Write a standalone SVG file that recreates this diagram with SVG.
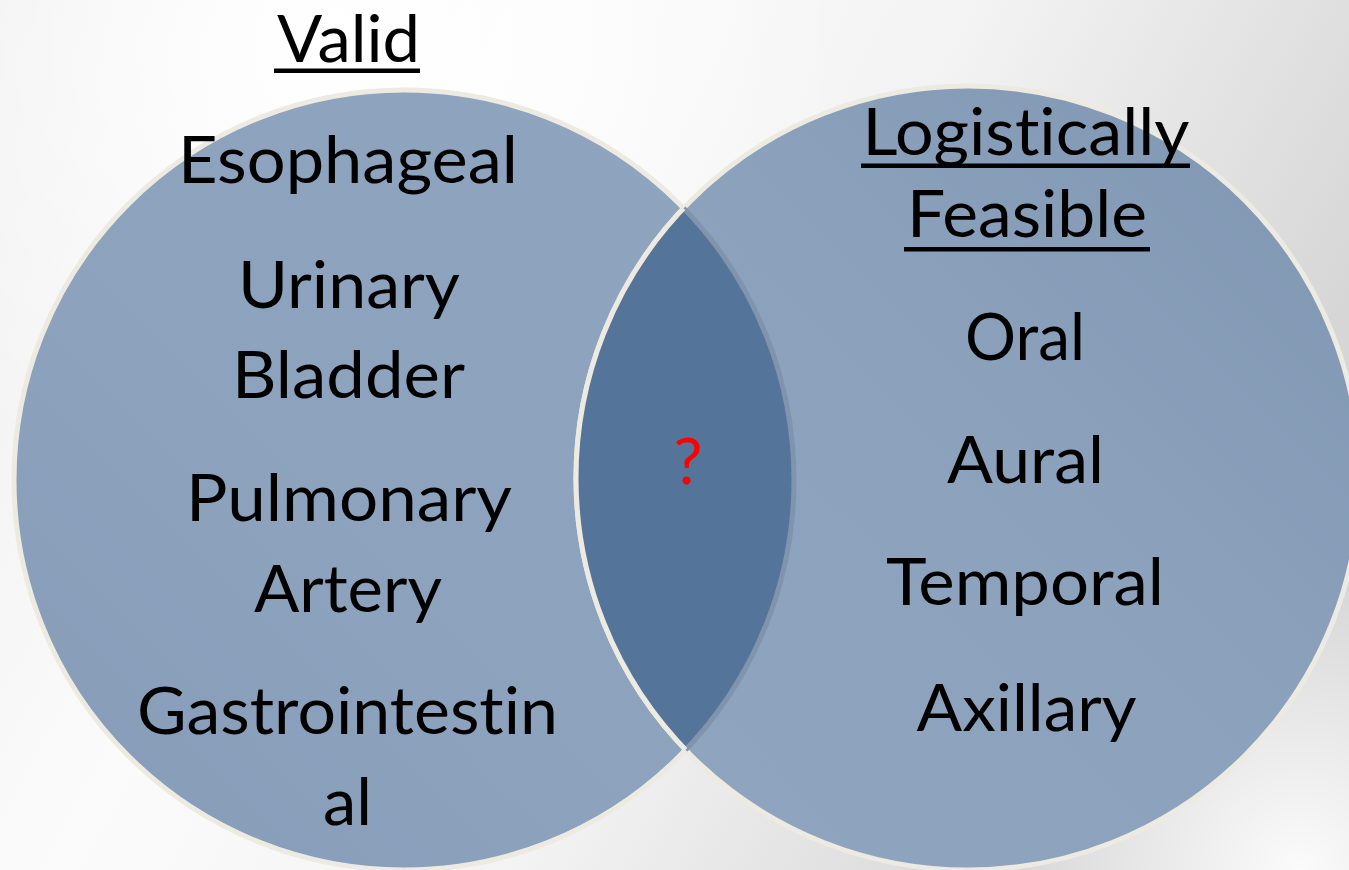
<svg xmlns="http://www.w3.org/2000/svg" width="1349" height="870" viewBox="0 0 1349 870">
  <defs>
    <linearGradient id="bg" x1="0" y1="0" x2="1" y2="0.35">
      <stop offset="0" stop-color="#EFEFEF"/>
      <stop offset="0.35" stop-color="#FBFBFB"/>
      <stop offset="0.65" stop-color="#F3F3F3"/>
      <stop offset="1" stop-color="#D6D6D6"/>
    </linearGradient>
    <radialGradient id="bgGlow" cx="330" cy="40" r="520" gradientUnits="userSpaceOnUse">
      <stop offset="0" stop-color="#FFFFFF" stop-opacity="1"/>
      <stop offset="1" stop-color="#FFFFFF" stop-opacity="0"/>
    </radialGradient>
    <radialGradient id="bgGlow2" cx="1300" cy="870" r="300" gradientUnits="userSpaceOnUse">
      <stop offset="0" stop-color="#FFFFFF" stop-opacity="0.9"/>
      <stop offset="1" stop-color="#FFFFFF" stop-opacity="0"/>
    </radialGradient>
    <linearGradient id="fillL" x1="1" y1="0" x2="0" y2="1">
      <stop offset="0" stop-color="#8FA5BF"/>
      <stop offset="0.6" stop-color="#8CA2BD"/>
      <stop offset="1" stop-color="#859BB7"/>
    </linearGradient>
    <linearGradient id="fillR" x1="0" y1="1" x2="1" y2="0">
      <stop offset="0" stop-color="#8FA5C0"/>
      <stop offset="0.55" stop-color="#8BA1BC"/>
      <stop offset="1" stop-color="#7F96B2"/>
    </linearGradient>
    <clipPath id="clipL">
      <circle cx="404" cy="480" r="390"/>
    </clipPath>
    <clipPath id="clipR">
      <circle cx="968" cy="478" r="392"/>
    </clipPath>
    <style>
      .edge { stroke: #EDEAE1; stroke-width: 5; }
      .lbl { font-family: Lato, "Open Sans", "Liberation Sans", sans-serif; font-size: 66px; fill: #000000; text-anchor: middle; font-variant-ligatures: none; font-feature-settings: "liga" 0, "clig" 0; }
      .ul { fill: #000000; }
      .q { font-family: Lato, "Open Sans", "Liberation Sans", sans-serif; font-size: 64px; fill: #FF0000; text-anchor: middle; }
    </style>
  </defs>

  <rect x="0" y="0" width="1349" height="870" fill="url(#bg)"/>
  <rect x="0" y="0" width="1349" height="870" fill="url(#bgGlow)"/>
  <rect x="0" y="0" width="1349" height="870" fill="url(#bgGlow2)"/>

  <g id="connectors"></g>

  <g id="set-valid">
    <circle cx="404" cy="480" r="390" fill="url(#fillL)" class="edge"/>
    <text class="lbl" x="348.5" y="62" textLength="143" lengthAdjust="spacingAndGlyphs">Valid</text>
    <rect class="ul" x="274" y="68.5" width="146" height="4.5"/>
    <text class="lbl" x="348" y="183" textLength="340" lengthAdjust="spacingAndGlyphs">Esophageal</text>
    <text class="lbl" x="349" y="308" textLength="222" lengthAdjust="spacingAndGlyphs">Urinary</text>
    <text class="lbl" x="348.5" y="398" textLength="233" lengthAdjust="spacingAndGlyphs">Bladder</text>
    <text class="lbl" x="349" y="521" textLength="326" lengthAdjust="spacingAndGlyphs">Pulmonary</text>
    <text class="lbl" x="348" y="612" textLength="188" lengthAdjust="spacingAndGlyphs">Artery</text>
    <text class="lbl" x="347.5" y="734" textLength="421" lengthAdjust="spacingAndGlyphs">Gastrointestin</text>
    <text class="lbl" x="347.5" y="825" textLength="49" lengthAdjust="spacingAndGlyphs">al</text>
  </g>

  <g id="set-feasible">
    <circle cx="968" cy="478" r="392" fill="url(#fillR)" class="edge"/>
    <text class="lbl" x="1026" y="155" textLength="327" lengthAdjust="spacingAndGlyphs">Logistically</text>
    <rect class="ul" x="861" y="163.5" width="329" height="4.5"/>
    <text class="lbl" x="1027" y="237" textLength="240" lengthAdjust="spacingAndGlyphs">Feasible</text>
    <rect class="ul" x="904" y="247" width="246" height="4.5"/>
    <text class="lbl" x="1025" y="360" textLength="120" lengthAdjust="spacingAndGlyphs">Oral</text>
    <text class="lbl" x="1025.5" y="483" textLength="157" lengthAdjust="spacingAndGlyphs">Aural</text>
    <text class="lbl" x="1025" y="605" textLength="278" lengthAdjust="spacingAndGlyphs">Temporal</text>
    <text class="lbl" x="1026.5" y="731" textLength="220" lengthAdjust="spacingAndGlyphs">Axillary</text>
  </g>

  <g id="overlap">
    <circle cx="968" cy="478" r="392" fill="#55749A" clip-path="url(#clipL)"/>
    <circle cx="404" cy="480" r="390" fill="none" stroke="#8095AD" stroke-width="5" clip-path="url(#clipR)"/>
    <circle cx="968" cy="478" r="392" fill="none" class="edge" clip-path="url(#clipL)"/>
    <text class="q" x="688" y="484">?</text>
  </g>
</svg>
